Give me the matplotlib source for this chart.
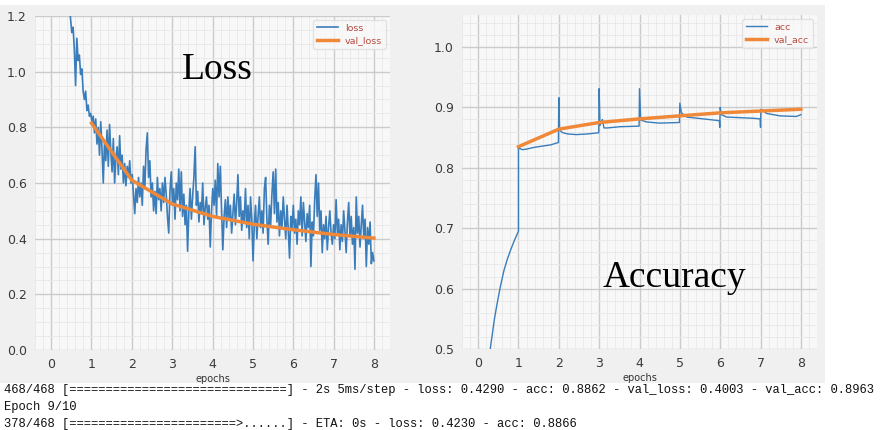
import numpy as np
import matplotlib
matplotlib.use("Agg")
import matplotlib.pyplot as plt
from matplotlib.ticker import AutoMinorLocator
from matplotlib.patches import Rectangle

# ---------------- data ----------------
loss_start, loss_end = 0.45, 8.0
loss = [
    # epoch 0.45-1
    1.25, 1.19, 1.14, 1.16, 1.08, 0.95, 1.12, 1.04, 1.06, 0.99, 1.01, 0.93, 0.90, 0.93, 0.86, 0.88, 0.84, 0.85,
    # epoch 1-2
    0.82, 0.84, 0.78, 0.83, 0.74, 0.80, 0.70, 0.82, 0.72, 0.60, 0.75, 0.68, 0.79, 0.66, 0.81, 0.71,
    0.64, 0.76, 0.60, 0.69, 0.73, 0.63, 0.77, 0.65, 0.70, 0.60, 0.67, 0.59, 0.66, 0.62, 0.68, 0.60,
    # epoch 2-3
    0.63, 0.56, 0.49, 0.58, 0.53, 0.62, 0.55, 0.60, 0.52, 0.66, 0.58, 0.72, 0.78, 0.62, 0.68, 0.55,
    0.60, 0.50, 0.57, 0.49, 0.62, 0.54, 0.58, 0.50, 0.60, 0.53, 0.62, 0.56, 0.48, 0.42, 0.57, 0.64,
    # epoch 3-4
    0.52, 0.58, 0.47, 0.60, 0.54, 0.65, 0.50, 0.64, 0.48, 0.56, 0.45, 0.52, 0.355, 0.50, 0.58, 0.47,
    0.55, 0.62, 0.73, 0.52, 0.57, 0.46, 0.53, 0.49, 0.60, 0.45, 0.51, 0.55, 0.47, 0.52, 0.37, 0.50,
    # epoch 4-5
    0.58, 0.52, 0.61, 0.48, 0.67, 0.55, 0.66, 0.50, 0.36, 0.48, 0.54, 0.44, 0.55, 0.47, 0.52, 0.42,
    0.49, 0.56, 0.45, 0.53, 0.63, 0.48, 0.55, 0.43, 0.50, 0.46, 0.58, 0.44, 0.52, 0.40, 0.55, 0.47,
    # epoch 5-6
    0.32, 0.45, 0.52, 0.40, 0.48, 0.55, 0.44, 0.50, 0.42, 0.58, 0.62, 0.47, 0.38, 0.52, 0.45, 0.56,
    0.64, 0.49, 0.65, 0.46, 0.53, 0.41, 0.50, 0.44, 0.55, 0.47, 0.40, 0.52, 0.43, 0.33, 0.48, 0.44,
    # epoch 6-7
    0.52, 0.42, 0.47, 0.38, 0.50, 0.45, 0.55, 0.41, 0.53, 0.46, 0.39, 0.49, 0.44, 0.52, 0.30, 0.46,
    0.41, 0.54, 0.63, 0.48, 0.60, 0.43, 0.50, 0.35, 0.45, 0.40, 0.48, 0.36, 0.44, 0.50, 0.42, 0.38,
    # epoch 7-8
    0.45, 0.40, 0.54, 0.42, 0.47, 0.36, 0.45, 0.39, 0.50, 0.43, 0.35, 0.46, 0.53, 0.41, 0.48, 0.38,
    0.44, 0.29, 0.55, 0.42, 0.48, 0.37, 0.45, 0.52, 0.40, 0.47, 0.30, 0.44, 0.38, 0.46, 0.31, 0.35,
    0.32,
]

val_epochs = [1, 2, 3, 4, 5, 6, 7, 8]
val_loss = [0.815, 0.61, 0.525, 0.48, 0.452, 0.432, 0.415, 0.402]
val_acc = [0.835, 0.864, 0.875, 0.881, 0.886, 0.891, 0.894, 0.897]

acc_x = [0.20, 0.28, 0.30, 0.40, 0.47, 0.55, 0.64, 0.72, 0.80, 0.90, 1.00,
         1.00, 1.03, 1.10, 1.20, 1.40, 1.60, 1.80, 1.99,
         2.00, 2.02, 2.10, 2.23, 2.44, 2.70, 2.99,
         3.00, 3.02, 3.08, 3.12, 3.20, 3.51, 3.99,
         4.00, 4.03, 4.17, 4.50, 4.99,
         5.00, 5.04, 5.17, 5.58, 5.98, 5.99,
         6.00, 6.03, 6.16, 6.50, 6.82, 6.99,
         7.00, 7.01, 7.15, 7.48, 7.89, 8.00]
acc = [0.43, 0.49, 0.50, 0.548, 0.575, 0.603, 0.63, 0.648, 0.663, 0.680, 0.695,
       0.835, 0.832, 0.830, 0.831, 0.834, 0.836, 0.838, 0.842,
       0.916, 0.862, 0.858, 0.856, 0.855, 0.856, 0.858,
       0.931, 0.870, 0.880, 0.866, 0.866, 0.868, 0.869,
       0.931, 0.879, 0.876, 0.874, 0.875,
       0.907, 0.891, 0.884, 0.881, 0.878, 0.867,
       0.900, 0.888, 0.884, 0.883, 0.882, 0.881,
       0.867, 0.897, 0.890, 0.886, 0.885, 0.888]

xticks = [0, 1, 2, 3, 4, 5, 6, 7, 8]
loss_yticks = [0.0, 0.2, 0.4, 0.6, 0.8, 1.0, 1.2]
acc_yticks = [0.5, 0.6, 0.7, 0.8, 0.9, 1.0]

console_lines = [
    "468/468 [" + "=" * 30 + "] - 2s 5ms/step - loss: 0.4290 - acc: 0.8862 - val_loss: 0.4003 - val_acc: 0.8963",
    "Epoch 9/10",
    "378/468 [" + "=" * 23 + ">" + "." * 6 + "] - ETA: 0s - loss: 0.4230 - acc: 0.8866",
]

# ---------------- figure ----------------
W, H = 885, 430
fig = plt.figure(figsize=(W / 100, H / 100), dpi=100, facecolor="white")

# grey panel behind the plots
fig.patches.append(Rectangle((0, (H - 383) / H), 825 / W, (383 - 5) / H,
                             transform=fig.transFigure, facecolor="#f0f0f0",
                             edgecolor="none", zorder=-10))

BLUE = "#3a7dba"
ORANGE = "#f0883a"
LEG_TXT = "#b84a3f"


def style_axes(ax):
    ax.set_facecolor("#f8f8f8")
    for s in ax.spines.values():
        s.set_visible(False)
    ax.xaxis.set_minor_locator(AutoMinorLocator())
    ax.yaxis.set_minor_locator(AutoMinorLocator())
    ax.grid(True, which="major", color="#cbcbcb", linewidth=1.0)
    ax.grid(True, which="minor", color="#e8e8e8", linewidth=0.6)
    ax.set_axisbelow(True)
    ax.tick_params(which="both", length=0, labelsize=9, colors="#3a3a3a", pad=6)
    ax.set_xlabel("epochs", fontsize=7, color="#333333", labelpad=2)
    ax.set_xticks(xticks)
    ax.set_xlim(-0.4, 8.4)


def legend(ax):
    leg = ax.legend(loc="upper right", fontsize=6.8, frameon=True, fancybox=True,
                    handlelength=2.2, borderpad=0.4, labelspacing=0.35,
                    borderaxespad=0.4)
    leg.get_frame().set_facecolor("#f8f8f8")
    leg.get_frame().set_edgecolor("#dddddd")
    for t in leg.get_texts():
        t.set_color(LEG_TXT)


# Loss axes
ax1 = fig.add_axes([35 / W, (H - 350) / H, 355 / W, 334 / H])
style_axes(ax1)
loss_x = np.linspace(loss_start, loss_end, len(loss))
ax1.plot(loss_x, loss, color=BLUE, lw=1.2, label="loss")
ax1.plot(val_epochs, val_loss, color=ORANGE, lw=2.5, label="val_loss")
ax1.set_ylim(0, 1.2)
ax1.set_yticks(loss_yticks)
legend(ax1)

# Accuracy axes
ax2 = fig.add_axes([462 / W, (H - 349) / H, 355 / W, 334 / H])
style_axes(ax2)
ax2.plot(acc_x, acc, color=BLUE, lw=1.0, label="acc")
ax2.plot(val_epochs, val_acc, color=ORANGE, lw=2.5, label="val_acc")
ax2.set_ylim(0.5, 1.053)
ax2.set_yticks(acc_yticks)
legend(ax2)

# big overlay titles
fig.text(182 / W, (H - 79) / H, "Loss", family="Liberation Serif", fontsize=27,
         color="black", ha="left", va="baseline", zorder=5)
fig.text(603 / W, (H - 287) / H, "Accuracy", family="Liberation Serif", fontsize=27,
         color="black", ha="left", va="baseline", zorder=5)

# console output
for i, line in enumerate(console_lines):
    fig.text(4 / W, (H - 393 - 17 * i) / H, line, family="Liberation Mono",
             fontsize=8.7, color="#111111", ha="left", va="baseline")

fig.savefig("out.png", dpi=100, facecolor="white")
